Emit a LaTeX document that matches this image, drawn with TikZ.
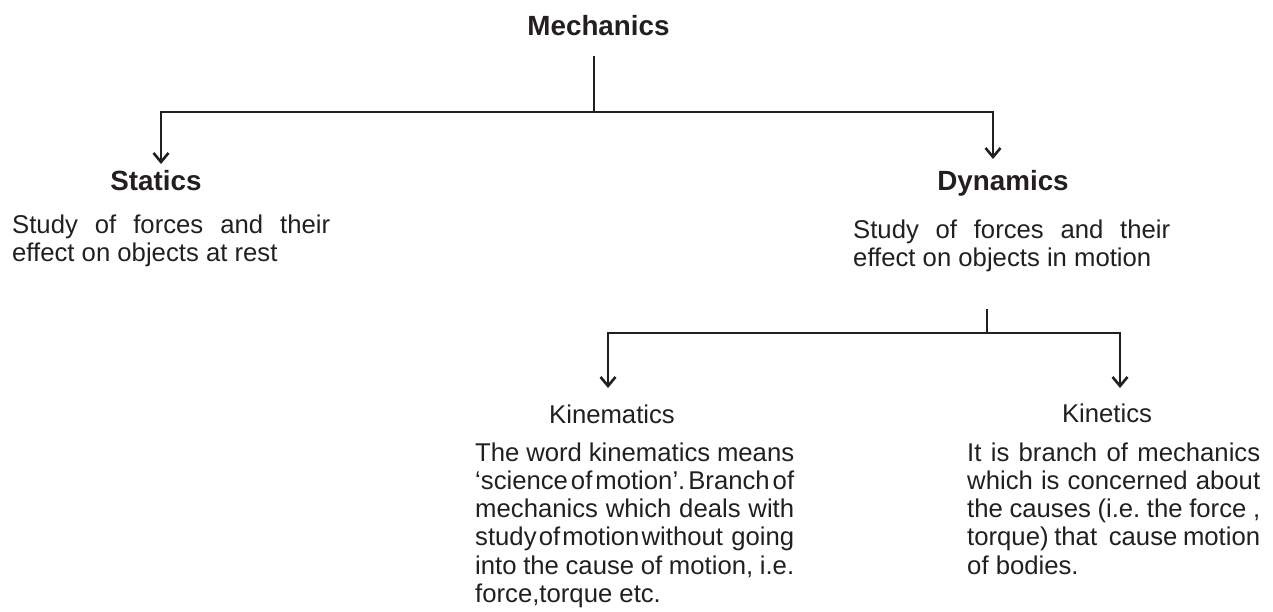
\documentclass[tikz,border=0pt]{standalone}
\usepackage{fontspec}
\setmainfont{Liberation Sans}
\usetikzlibrary{arrows.meta}
\definecolor{ink}{HTML}{231F20}
\newcommand{\JL}[2]{\hbox to #1{\frenchspacing\spaceskip=0pt plus 1fil\xspaceskip=0pt plus 1fil\relax #2}}
\newcommand{\NL}[1]{\hbox{#1}}
\tikzset{
  conn/.style={draw=ink, line width=2.6pt},
  arr/.style={conn, -{Straight Barb[length=9pt,width=15pt]}},
  head/.style={inner sep=0pt, anchor=base, text=ink, font=\bfseries\fontsize{27.8}{30}\selectfont},
  sub/.style={inner sep=0pt, anchor=base, text=ink, font=\fontsize{25.7}{28.3}\selectfont},
  body/.style={inner sep=0pt, anchor=base west, text=ink, font=\fontsize{25.7}{28.3}\selectfont},
}
\begin{document}
\begin{tikzpicture}[x=1pt,y=1pt]
\useasboundingbox (0,0) rectangle (1273,-611);
% titles
\node[head] (mech) at (598.5,-35) {Mechanics};
\node[head] (stat) at (156,-190) {Statics};
\node[head] (dyn) at (1003,-190) {Dynamics};
\node[sub] (kinem) at (612,-423) {Kinematics};
\node[sub] (kinet) at (1107,-422) {Kinetics};
% bodies
\node[body] (statb) at (12,-233) {\vtop{\JL{318pt}{Study of forces and their}\NL{effect on objects at rest}}};
\node[body] (dynb) at (853,-238) {\vtop{\JL{317pt}{Study of forces and their}\NL{effect on objects in motion}}};
\node[body] (kinemb) at (475,-461) {\vtop{%
\JL{319pt}{The word kinematics means}%
\JL{319pt}{‘science of motion’. Branch of}%
\JL{319pt}{mechanics which deals with}%
\JL{319pt}{study of motion without\hspace{6pt} going}%
\JL{319pt}{into the cause of motion, i.e.}%
\NL{force,torque etc.}}};
\node[body] (kinetb) at (967,-461) {\vtop{%
\JL{293pt}{It is branch of mechanics}%
\JL{293pt}{which is concerned about}%
\JL{293pt}{the causes (i.e. the force ,}%
\JL{293pt}{torque) that\hspace{6pt} cause motion}%
\NL{of bodies.}}};
% connector points
\coordinate (m0) at (594,-56);
\coordinate (j1) at (594,-112);
\coordinate (sa) at (161,-164);
\coordinate (da) at (993,-159);
\coordinate (d0) at (987,-309);
\coordinate (j2) at (987,-333);
\coordinate (ka) at (608,-388);
\coordinate (ta) at (1120,-388);
% connectors
\draw[conn] (m0) -- (j1);
\draw[arr] (j1) -| (sa);
\draw[arr] (j1) -| (da);
\draw[conn] (d0) -- (j2);
\draw[arr] (j2) -| (ka);
\draw[arr] (j2) -| (ta);
\end{tikzpicture}
\end{document}
